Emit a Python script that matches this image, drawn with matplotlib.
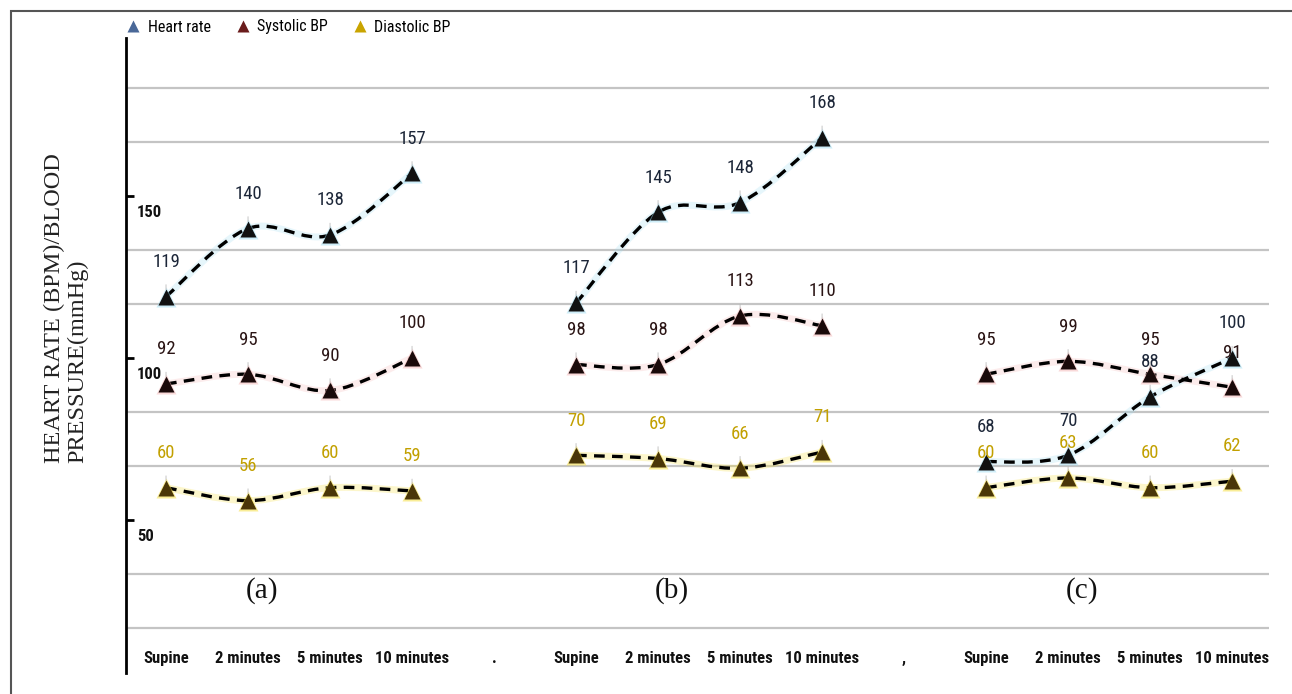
import matplotlib
matplotlib.use("Agg")
import matplotlib.pyplot as plt
from matplotlib.path import Path
from matplotlib.patches import PathPatch, Rectangle
from matplotlib.lines import Line2D
import numpy as np

# ---------------- data ----------------
categories = ["Supine", "2 minutes", "5 minutes", "10 minutes", ".",
              "Supine", "2 minutes", "5 minutes", "10 minutes", ",",
              "Supine", "2 minutes", "5 minutes", "10 minutes"]
panel_labels = ["(a)", "(b)", "(c)"]
panel_starts = [0, 5, 10]   # category index of each panel's "Supine"

heart_rate_a = [119, 140, 138, 157]
systolic_a = [92, 95, 90, 100]
diastolic_a = [60, 56, 60, 59]

heart_rate_b = [117, 145, 148, 168]
systolic_b = [98, 98, 113, 110]
diastolic_b = [70, 69, 66, 71]

heart_rate_c = [68, 70, 88, 100]
systolic_c = [95, 99, 95, 91]
diastolic_c = [60, 63, 60, 62]

ytick_values = [150, 100, 50]
ytick_labels = ["150", "100", "50"]

series_names = ["Heart rate", "Systolic BP", "Diastolic BP"]

# ---------------- style ----------------
NARROW = ["Liberation Sans Narrow", "Roboto Condensed", "DejaVu Sans"]
SERIF = ["Liberation Serif", "DejaVu Serif"]
glow_colors = ["#9fdcf2", "#f4b4b4", "#f5dc30"]
marker_colors = ["#111111", "#1a0a0a", "#4a3608"]
label_colors = ["#1c2638", "#2a1414", "#c2a000"]
legend_colors = ["#4a6898", "#6a1c1c", "#c9a400"]

fig = plt.figure(figsize=(12.92, 6.94), dpi=100)
W, H = 1292, 694
ax = fig.add_axes([126 / W, 1 - 673 / H, (1269 - 126) / W, (673 - 38) / H])

# figure frame (only top/left visible)
fig.patches.append(Rectangle((11 / W, -0.05), 1.2, 1 - 11 / H + 0.05,
                             transform=fig.transFigure, fill=False,
                             ec="#555555", lw=1.5))

ax.set_xlim(-0.488, 13.45)
ax.set_ylim(2.8, 198.8)

for s in ["top", "right", "bottom"]:
    ax.spines[s].set_visible(False)
ax.spines["left"].set_linewidth(2)
ax.spines["left"].set_color("black")

# gridlines (every 50/3 units, gaps at the labelled levels)
grid_levels = [k * 50 / 3 for k in range(1, 12) if k % 3 != 0]
for g in grid_levels:
    ax.axhline(g, color="#c4c4c4", lw=1.6, zorder=0)

# x tick labels
ax.set_xticks(range(len(categories)))
ax.set_xticklabels(categories, fontfamily=NARROW, fontweight="bold",
                   fontsize=12, color="#111111")
ax.tick_params(axis="x", length=0, pad=-16)

# y ticks
ax.set_yticks(ytick_values)
ax.set_yticklabels([])
ax.tick_params(axis="y", direction="in", length=6, width=2, color="black")
for v, lab in zip(ytick_values, ytick_labels):
    ax.annotate(lab, xy=(0, v), xycoords=("axes fraction", "data"),
                xytext=(8, -12), textcoords="offset points",
                ha="left", va="center", fontfamily=NARROW,
                fontweight="bold", fontsize=12, color="#111111")

fig.text(66 / W, 1 - 308 / H, "HEART RATE (BPM)/BLOOD\nPRESSURE(mmHg)",
         rotation=90, ha="center", va="center", multialignment="left",
         fontfamily=SERIF, fontsize=17.5, color="#222222", linespacing=1.15)


def smooth_path(xs, ys):
    pts = np.column_stack([xs, ys]).astype(float)
    n = len(pts)
    verts = [pts[0]]
    codes = [Path.MOVETO]
    for i in range(n - 1):
        p0 = pts[i - 1] if i > 0 else pts[i]
        p1 = pts[i]
        p2 = pts[i + 1]
        p3 = pts[i + 2] if i + 2 < n else pts[i + 1]
        c1 = p1 + (p2 - p0) / 6.0
        c2 = p2 - (p3 - p1) / 6.0
        verts += [c1, c2, p2]
        codes += [Path.CURVE4] * 3
    return Path(verts, codes)


panels = [
    [heart_rate_a, systolic_a, diastolic_a],
    [heart_rate_b, systolic_b, diastolic_b],
    [heart_rate_c, systolic_c, diastolic_c],
]

for p, (start, series) in enumerate(zip(panel_starts, panels)):
    xs = list(range(start, start + 4))
    for si, vals in enumerate(series):
        path = smooth_path(xs, vals)
        ax.add_patch(PathPatch(path, fill=False, ec=glow_colors[si], lw=5,
                               alpha=0.25, zorder=2))
        ax.add_patch(PathPatch(path, fill=False, ec="black", lw=2.4,
                               ls=(0, (3.2, 2.2)), zorder=3))
        ax.plot(xs, vals, ls="none", marker="^", ms=15, color=glow_colors[si],
                alpha=0.5, mec="none", zorder=4)
        ax.plot(xs, vals, ls="none", marker="^", ms=11,
                color=marker_colors[si], mec="none", zorder=5)
        for x, v in zip(xs, vals):
            ax.annotate(str(v), xy=(x, v), xytext=(0, 25),
                        textcoords="offset points", ha="center", va="center",
                        fontfamily=NARROW, fontsize=13.5, color=label_colors[si],
                        zorder=6,
                        arrowprops=dict(arrowstyle="-", color="#bbbbbb",
                                        lw=0.6, shrinkA=8, shrinkB=5))
    ax.text(start + 1.17, 28.4, panel_labels[p], ha="center", va="center",
            fontfamily=SERIF, fontsize=21, color="#111111")

# legend
handles = [Line2D([], [], ls="none", marker="^", ms=8, color=c, mec="none")
           for c in legend_colors]
fig.legend(handles, series_names, loc="center left",
           bbox_to_anchor=(127 / W, 1 - 27 / H), ncol=3, frameon=False,
           handlelength=0.8, handletextpad=0.5, columnspacing=1.6,
           borderaxespad=0, borderpad=0,
           prop=dict(family=NARROW, size=11.5))

fig.savefig("out.png", dpi=100, facecolor="white")
